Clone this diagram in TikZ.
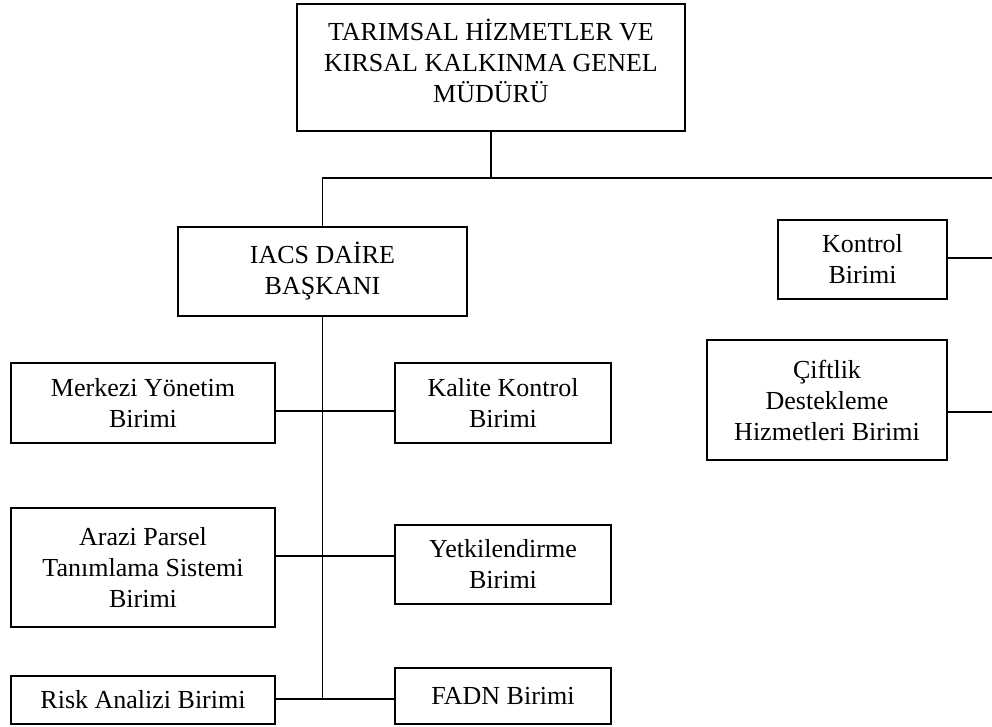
\documentclass[tikz,border=0pt]{standalone}
\usepackage{fontspec}
\setmainfont{Liberation Serif}
\begin{document}
\begin{tikzpicture}[x=1pt,y=-1pt,
  unit/.style={draw, line width=1.8pt, rectangle, align=center, inner sep=0pt,
    font=\fontsize{26}{31}\selectfont},
  link/.style={line width=1.8pt},
  label text/.style={align=center, inner sep=0pt, font=\fontsize{26}{31}\selectfont}]
\useasboundingbox (0,0) rectangle (992,726);

% General directorate
\node[unit, minimum width=388pt, minimum height=127pt] (gm) at (491,67.5) {};
\node[label text] (gmtext) at (491,60.5)
  {TARIMSAL HİZMETLER VE\\KIRSAL KALKINMA GENEL\\MÜDÜRÜ};

% Department head and side units
\node[unit, minimum width=289pt, minimum height=89pt] (iacs) at (322.5,271.5)
  {IACS DAİRE\\BAŞKANI};
\node[unit, minimum width=169pt, minimum height=79pt] (kontrol) at (862.5,259.5)
  {Kontrol\\Birimi};
\node[unit, minimum width=240pt, minimum height=120pt] (ciftlik) at (827,400)
  {Çiftlik\\Destekleme\\Hizmetleri Birimi};

% Units under the department head
\node[unit, minimum width=264pt, minimum height=80pt] (merkezi) at (143,403)
  {Merkezi Yönetim\\Birimi};
\node[unit, minimum width=216pt, minimum height=80pt] (kalite) at (503,403)
  {Kalite Kontrol\\Birimi};
\node[unit, minimum width=264pt, minimum height=119pt] (arazi) at (143,567.5)
  {Arazi Parsel\\Tanımlama Sistemi\\Birimi};
\node[unit, minimum width=216pt, minimum height=79pt] (yetki) at (503,564.5)
  {Yetkilendirme\\Birimi};
\node[unit, minimum width=264pt, minimum height=48pt] (risk) at (143,700)
  {Risk Analizi Birimi};
\node[unit, minimum width=216pt, minimum height=56pt] (fadn) at (503,696)
  {FADN Birimi};

% Junction points
\coordinate (bus) at (491,178);
\coordinate (busR) at (992,178);
\coordinate (rk) at (992,258);
\coordinate (rc) at (992,412);
\coordinate (j1) at (323,411);
\coordinate (j2) at (323,556);
\coordinate (j3) at (323,699);

% Connectors
\draw[link] (gm.south) -- (bus);
\draw[link] (iacs.north) -- (iacs.north |- bus) -- (busR);
\draw[link] (kontrol.east |- rk) -- (rk);
\draw[link] (ciftlik.east |- rc) -- (rc);
\draw[link] (iacs.south) -- (iacs.south |- j3);
\draw[link] (merkezi.east |- j1) -- (kalite.west |- j1);
\draw[link] (arazi.east |- j2) -- (yetki.west |- j2);
\draw[link] (risk.east |- j3) -- (fadn.west |- j3);
\end{tikzpicture}
\end{document}
